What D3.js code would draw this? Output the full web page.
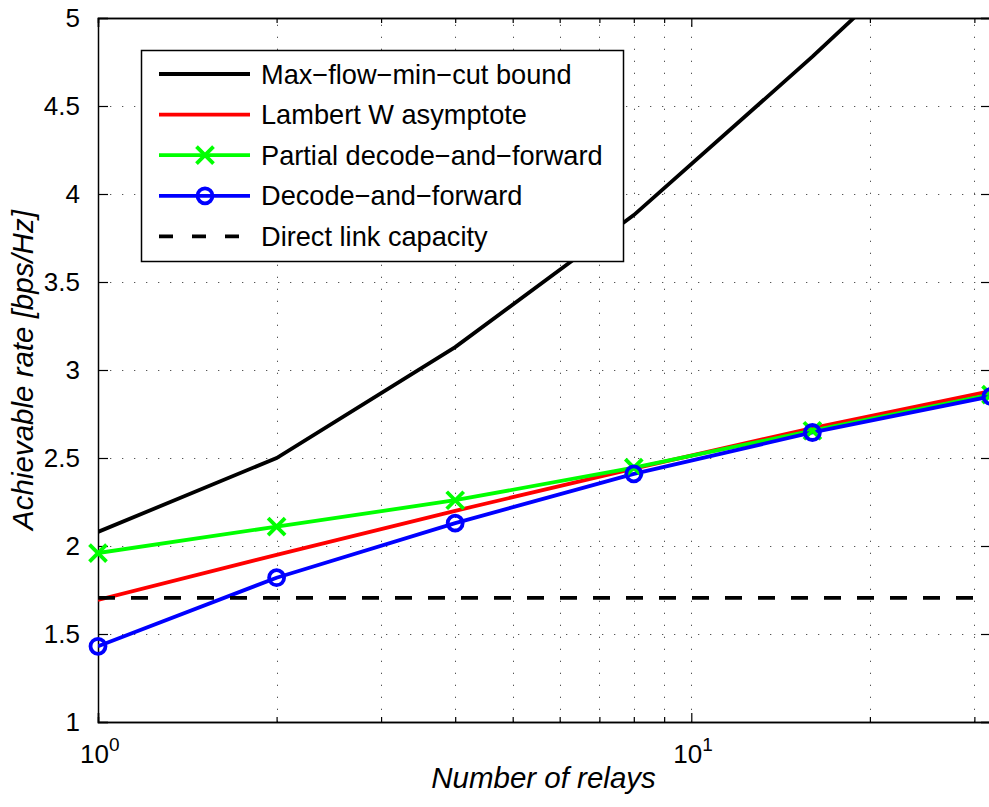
<!DOCTYPE html>
<html>
<head>
<meta charset="utf-8">
<script src="https://cdn.jsdelivr.net/npm/d3@7"></script>
<style>
  body { margin: 0; background: #fff; }
  svg { display: block; font-family: "Liberation Sans", Arial, Helvetica, sans-serif; }
</style>
</head>
<body>
<div class="container"></div>
<script>

// relays (x) and the rate of each scheme
var relays = [1, 2, 4, 8, 16, 32];
var maxFlow = [2.08, 2.5, 3.13, 3.88, 4.78, 5.73];
var lambertW = [1.693, 1.95, 2.2, 2.44, 2.67, 2.88];
var partialDF = [1.96, 2.11, 2.26, 2.445, 2.655, 2.86];
var decodeDF = [1.43, 1.82, 2.13, 2.41, 2.645, 2.85];
var directLink = 1.705;

var yTicks = [1, 1.5, 2, 2.5, 3, 3.5, 4, 4.5, 5];
var xMajor = [1, 10];
var xMinor = [2, 3, 4, 5, 6, 7, 8, 9, 20, 30];
var legendLabels = ["Max\u2212flow\u2212min\u2212cut bound", "Lambert W asymptote",
                    "Partial decode\u2212and\u2212forward", "Decode\u2212and\u2212forward",
                    "Direct link capacity"];

var W = 989, H = 807;
var plotL = 98, plotR = 991, plotT = 18, plotB = 722;
var lw = 3.8;

var svg = d3.select(".container").append("svg")
            .attr("width", W)
            .attr("height", H);

var x = d3.scaleLog().domain([1, 32]).range([plotL, plotR]);
var y = d3.scaleLinear().domain([1, 5]).range([plotB, plotT]);

svg.append("clipPath").attr("id", "plot")
   .append("rect")
   .attr("x", plotL).attr("y", plotT)
   .attr("width", plotR - plotL).attr("height", plotB - plotT);

// dotted grid
var grid = svg.append("g")
              .attr("stroke", "#555")
              .attr("stroke-width", 1)
              .attr("stroke-dasharray", "1.3,10.7");
grid.selectAll(".gx").data(xMajor.concat(xMinor)).enter().append("line")
    .attr("x1", function (d) { return Math.round(x(d)) + 0.5; })
    .attr("x2", function (d) { return Math.round(x(d)) + 0.5; })
    .attr("y1", plotB).attr("y2", plotT);
grid.selectAll(".gy").data(yTicks).enter().append("line")
    .attr("y1", function (d) { return Math.round(y(d)) + 0.5; })
    .attr("y2", function (d) { return Math.round(y(d)) + 0.5; })
    .attr("x1", plotL).attr("x2", plotR);

// axes, box on, ticks inward
var axisLeft = d3.axisLeft(y).tickValues(yTicks).tickSize(-10).tickPadding(18)
                 .tickFormat(function (d) { return d; });
var axisRight = d3.axisRight(y).tickValues(yTicks).tickSize(-10).tickFormat("");
var axisBottom = d3.axisBottom(x).tickValues(xMajor).tickSize(-9).tickFormat("");
var axisBottomMinor = d3.axisBottom(x).tickValues(xMinor).tickSize(-5).tickFormat("");
var axisTop = d3.axisTop(x).tickValues(xMajor).tickSize(-9).tickFormat("");
var axisTopMinor = d3.axisTop(x).tickValues(xMinor).tickSize(-5).tickFormat("");

function styleAxis(g) {
	g.selectAll("path").attr("stroke", "#000").attr("stroke-width", 1.5);
	g.selectAll("line").attr("stroke", "#000").attr("stroke-width", 1.2);
	g.selectAll("text").attr("font-size", 26).attr("fill", "#000")
	 .attr("font-family", "Liberation Sans, Arial, sans-serif");
}

svg.append("g").attr("transform", "translate(" + plotL + ",0)").call(axisLeft).call(styleAxis);
svg.append("g").attr("transform", "translate(" + plotR + ",0)").call(axisRight).call(styleAxis);
svg.append("g").attr("transform", "translate(0," + plotB + ")").call(axisBottom).call(styleAxis);
svg.append("g").attr("transform", "translate(0," + plotB + ")").call(axisBottomMinor).call(styleAxis);
svg.append("g").attr("transform", "translate(0," + plotT + ")").call(axisTop).call(styleAxis);
svg.append("g").attr("transform", "translate(0," + plotT + ")").call(axisTopMinor).call(styleAxis);

// 10^n labels
xMajor.forEach(function (d) {
	var t = svg.append("text")
	           .attr("x", x(d) - 18)
	           .attr("y", 763)
	           .attr("font-size", 26);
	t.append("tspan").text("10");
	t.append("tspan").attr("font-size", 19).attr("dy", -12).text(Math.round(Math.log10(d)));
});

svg.append("text")
   .attr("x", (plotL + plotR) / 2 - 1)
   .attr("y", 788)
   .attr("text-anchor", "middle")
   .attr("font-size", 29.5)
   .attr("font-style", "italic")
   .text("Number of relays");

svg.append("text")
   .attr("transform", "translate(33," + (plotT + plotB) / 2 + ") rotate(-90)")
   .attr("text-anchor", "middle")
   .attr("font-size", 29.5)
   .attr("font-style", "italic")
   .text("Achievable rate [bps/Hz]");

// curves
var line = d3.line()
             .x(function (d) { return x(d[0]); })
             .y(function (d) { return y(d[1]); });
var plot = svg.append("g").attr("clip-path", "url(#plot)");

function drawCurve(values, color) {
	plot.append("path")
	    .datum(d3.zip(relays, values))
	    .attr("d", line)
	    .attr("fill", "none")
	    .attr("stroke", color)
	    .attr("stroke-width", lw);
}

function drawCross(g, cx, cy, color) {
	g.append("path")
	 .attr("d", "M" + (cx - 8.5) + "," + (cy - 8.5) + "L" + (cx + 8.5) + "," + (cy + 8.5) +
	            "M" + (cx - 8.5) + "," + (cy + 8.5) + "L" + (cx + 8.5) + "," + (cy - 8.5))
	 .attr("stroke", color).attr("stroke-width", lw).attr("fill", "none");
}

function drawRing(g, cx, cy, color) {
	g.append("circle")
	 .attr("cx", cx).attr("cy", cy).attr("r", 7.5)
	 .attr("stroke", color).attr("stroke-width", lw).attr("fill", "none");
}

drawCurve(maxFlow, "#000");
drawCurve(lambertW, "#ff0000");
drawCurve(partialDF, "#00ff00");
drawCurve(decodeDF, "#0000ff");
plot.append("line")
    .attr("x1", x(1)).attr("x2", x(32))
    .attr("y1", y(directLink)).attr("y2", y(directLink))
    .attr("stroke", "#000").attr("stroke-width", lw)
    .attr("stroke-dasharray", "17,16");

relays.forEach(function (r, i) { drawCross(svg, x(r), y(partialDF[i]), "#00ff00"); });
relays.forEach(function (r, i) { drawRing(svg, x(r), y(decodeDF[i]), "#0000ff"); });

// legend
var lg = svg.append("g");
lg.append("rect")
  .attr("x", 141.5).attr("y", 50.5).attr("width", 482).attr("height", 211)
  .attr("fill", "#fff").attr("stroke", "#000").attr("stroke-width", 1.5);

var legendColors = ["#000", "#ff0000", "#00ff00", "#0000ff", "#000"];
legendLabels.forEach(function (label, i) {
	var ly = 74 + i * 40.6;
	lg.append("line")
	  .attr("x1", 159).attr("x2", 250).attr("y1", ly).attr("y2", ly)
	  .attr("stroke", legendColors[i]).attr("stroke-width", lw)
	  .attr("stroke-dasharray", i == 4 ? "14,19" : null);
	if (i == 2) drawCross(lg, 205, ly, legendColors[i]);
	if (i == 3) drawRing(lg, 205, ly, legendColors[i]);
	lg.append("text")
	  .attr("x", 261).attr("y", ly + 9.5)
	  .attr("font-size", 27.2)
	  .text(label);
});

</script>
</body>
</html>
